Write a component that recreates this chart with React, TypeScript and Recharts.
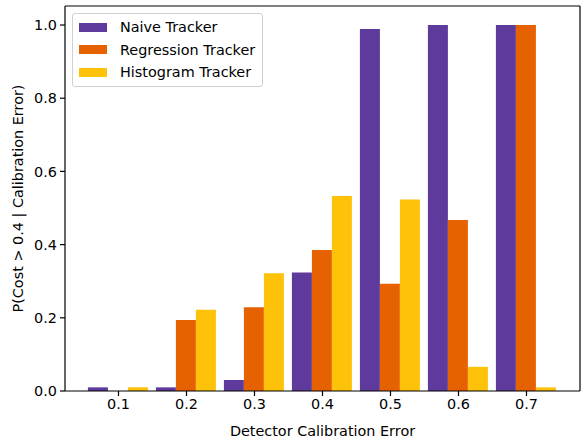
import { BarChart, Bar, XAxis, YAxis } from "recharts";

const errors = ["0.1", "0.2", "0.3", "0.4", "0.5", "0.6", "0.7"];
const naive = [0.01, 0.01, 0.03, 0.324, 0.989, 1.0, 1.0];
const regression = [0.0, 0.194, 0.229, 0.385, 0.293, 0.467, 1.0];
const histogram = [0.01, 0.222, 0.322, 0.533, 0.523, 0.066, 0.01];
const yTicks = [0, 0.2, 0.4, 0.6, 0.8, 1.0];

const SERIES = [
  { key: "naive", name: "Naive Tracker", color: "#5d3a9b" },
  { key: "regression", name: "Regression Tracker", color: "#e66100" },
  { key: "histogram", name: "Histogram Tracker", color: "#ffc20a" },
];

const data = errors.map((e, i) => ({
  error: e,
  naive: naive[i],
  regression: regression[i],
  histogram: histogram[i],
}));

const FONT = "DejaVu Sans, sans-serif";
const FS = 14.4;

// legend box in the upper left corner of the axes, like matplotlib's
const LegendBox = () => (
  <div
    style={{
      position: "absolute",
      left: 72,
      top: 13,
      border: "1px solid #d0d0d0",
      borderRadius: 3,
      background: "rgba(255,255,255,0.8)",
      padding: "2px 7px 2px 6px",
      fontFamily: FONT,
      fontSize: FS,
      color: "#000",
    }}
  >
    {SERIES.map((s) => (
      <div key={s.key} style={{ display: "flex", alignItems: "center", height: 22.5 }}>
        <span style={{ width: 28, height: 9, background: s.color, marginRight: 13 }} />
        <span>{s.name}</span>
      </div>
    ))}
  </div>
);

const YLabel = ({ viewBox }: any) => {
  const cy = viewBox.y + viewBox.height / 2;
  return (
    <text
      x={18}
      y={cy}
      transform={`rotate(-90, 18, ${cy})`}
      textAnchor="middle"
      dominantBaseline="central"
      fontFamily={FONT}
      fontSize={FS}
      fill="#000"
    >
      P(Cost &gt; 0.4 | Calibration Error)
    </text>
  );
};

export default function App() {
  return (
    <div style={{ position: "absolute", left: 0, top: 0, width: 581, height: 439, background: "#fff" }}>
      <BarChart
        width={581}
        height={439}
        data={data}
        margin={{ top: 5, right: 0, left: 0, bottom: 0 }}
        barGap={0}
        barCategoryGap="5%"
      >
        <XAxis
          dataKey="error"
          xAxisId="bottom"
          height={48}
          padding={{ left: 19.5, right: 19.5 }}
          axisLine={{ stroke: "#000", strokeWidth: 1.2 }}
          tickLine={{ stroke: "#000", strokeWidth: 1.2 }}
          tickSize={5}
          tickMargin={3}
          tick={{ fill: "#000", fontFamily: FONT, fontSize: FS }}
          label={{
            value: "Detector Calibration Error",
            position: "insideBottom",
            offset: 3,
            fill: "#000",
            fontFamily: FONT,
            fontSize: FS,
          }}
        />
        <XAxis
          dataKey="error"
          xAxisId="top"
          orientation="top"
          height={1}
          tick={false}
          tickLine={false}
          axisLine={{ stroke: "#000", strokeWidth: 1.2 }}
        />
        <YAxis
          yAxisId="left"
          width={65}
          domain={[0, 1.052]}
          ticks={yTicks}
          allowDataOverflow
          tickFormatter={(v: number) => v.toFixed(1)}
          axisLine={{ stroke: "#000", strokeWidth: 1.2 }}
          tickLine={{ stroke: "#000", strokeWidth: 1.2 }}
          tickSize={5}
          tickMargin={3}
          tick={{ fill: "#000", fontFamily: FONT, fontSize: FS }}
          label={<YLabel />}
        />
        <YAxis
          yAxisId="right"
          orientation="right"
          width={1}
          domain={[0, 1.052]}
          tick={false}
          tickLine={false}
          axisLine={{ stroke: "#000", strokeWidth: 1.2 }}
        />
        {SERIES.map((s) => (
          <Bar
            key={s.key}
            dataKey={s.key}
            name={s.name}
            fill={s.color}
            xAxisId="bottom"
            yAxisId="left"
            isAnimationActive={false}
          />
        ))}
      </BarChart>
      <LegendBox />
    </div>
  );
}
